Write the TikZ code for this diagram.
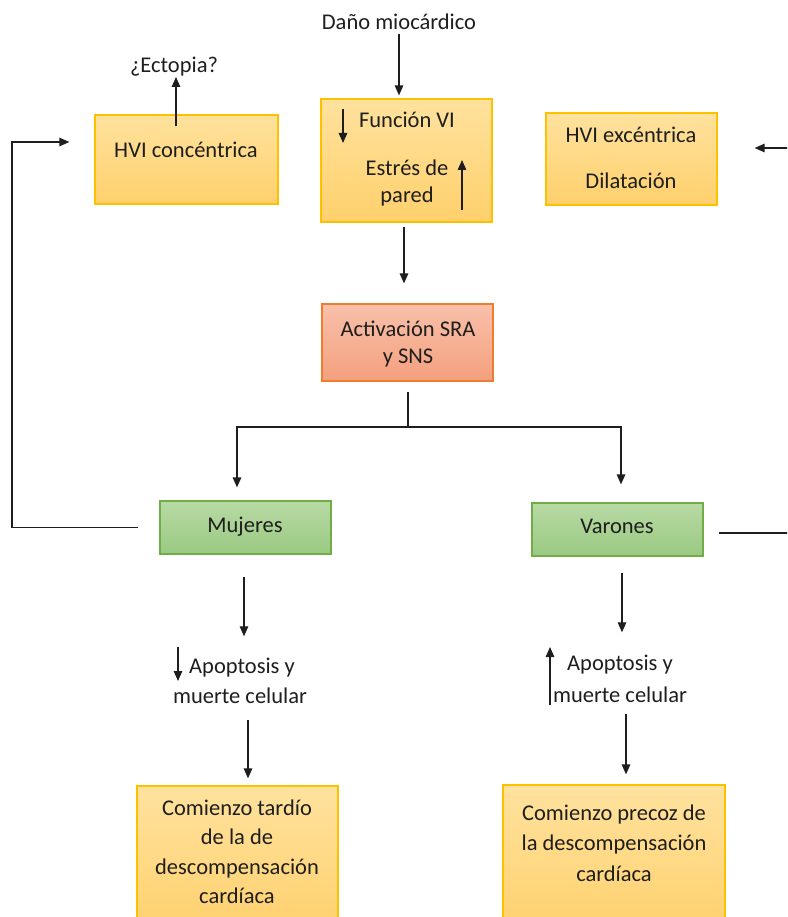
\documentclass[tikz,border=0pt]{standalone}
\usepackage{fontspec}
\setmainfont{Carlito}
\usetikzlibrary{arrows.meta,calc}
\definecolor{ybord}{RGB}{255,192,0}
\definecolor{ytop}{RGB}{255,226,158}
\definecolor{ybot}{RGB}{255,208,108}
\definecolor{otop}{RGB}{248,192,170}
\definecolor{obot}{RGB}{244,160,126}
\definecolor{obord}{RGB}{237,125,49}
\definecolor{gtop}{RGB}{184,218,164}
\definecolor{gbot}{RGB}{154,201,130}
\definecolor{gbord}{RGB}{112,173,71}
\definecolor{ink}{RGB}{30,30,30}
\begin{document}
\begin{tikzpicture}[x=1pt,y=-1pt,
  ybox/.style={draw=ybord, line width=1.2pt, top color=ytop, bottom color=ybot, inner sep=0pt},
  obox/.style={draw=obord, line width=1.2pt, top color=otop, bottom color=obot, inner sep=0pt},
  gbox/.style={draw=gbord, line width=1.2pt, top color=gtop, bottom color=gbot, inner sep=0pt},
  txt/.style={font=\fontsize{22.5}{27}\selectfont, text=ink, inner sep=0pt, anchor=base},
  arr/.style={draw=ink, line width=1.3pt, -{Triangle[length=10pt,width=8.5pt]}},
  ln/.style={draw=ink, line width=1.3pt}]
\useasboundingbox (0,0) rectangle (787,917);
\clip (0,0) rectangle (787,917);
% boxes
\node[ybox, minimum width=171pt, minimum height=123pt] (fvi) at (406.5,160.5) {};
\node[ybox, minimum width=183pt, minimum height=89pt] (hvic) at (186.5,159.5) {};
\node[ybox, minimum width=171pt, minimum height=92pt] (hvie) at (631.5,159) {};
\node[obox, minimum width=171pt, minimum height=77pt] (act) at (407.5,342.5) {};
\node[gbox, minimum width=171pt, minimum height=53pt] (muj) at (245.5,527.5) {};
\node[gbox, minimum width=171pt, minimum height=53pt] (var) at (617.5,529.5) {};
\node[ybox, minimum width=201pt, minimum height=150pt] (bl) at (237.5,861) {};
\node[ybox, minimum width=222pt, minimum height=152pt] (br) at (614,861) {};
% texts
\node[txt] (dano) at (399,30) {Daño miocárdico};
\node[txt] (ecto) at (174,73) {¿Ectopia?};
\node[txt] (funcion) at (407,128) {Función VI};
\node[txt] (estres) at (407,176) {Estrés de};
\node[txt] (pared) at (407,203) {pared};
\node[txt] (hvict) at (186,158) {HVI concéntrica};
\node[txt] (hviet) at (631,143) {HVI excéntrica};
\node[txt] (dil) at (631,189) {Dilatación};
\node[txt] (act1) at (408,336) {Activación SRA};
\node[txt] (act2) at (408,363) {y SNS};
\node[txt] (mujt) at (245,532) {Mujeres};
\node[txt] (vart) at (617,533) {Varones};
\node[txt] (apL1) at (242,673) {Apoptosis y};
\node[txt] (apL2) at (240,703) {muerte celular};
\node[txt] (apR1) at (620,670) {Apoptosis y};
\node[txt] (apR2) at (620,702) {muerte celular};
\node[txt] (bl1) at (237,815) {Comienzo tardío};
\node[txt] (bl2) at (237,844.5) {de la de};
\node[txt] (bl3) at (237,874) {descompensación};
\node[txt] (bl4) at (237,903) {cardíaca};
\node[txt] (br1) at (614,820) {Comienzo precoz de};
\node[txt] (br2) at (614,850.5) {la descompensación};
\node[txt] (br3) at (614,881) {cardíaca};
% coordinates
\coordinate (split) at (408,427);
\coordinate (loopL) at (12,142);
\coordinate (loopR) at (800,148);
\coordinate (fd1) at (343,109);
\coordinate (fd2) at (343,143);
\coordinate (fu1) at (462,210);
\coordinate (fu2) at (462,160);
\coordinate (ad1) at (178,647);
\coordinate (ad2) at (178,681);
\coordinate (au1) at (550,705);
\coordinate (au2) at (550,647);
% connectors
\draw[arr, shorten <=4pt, shorten >=3pt] (dano.south) -- (dano.south |- fvi.north);
\draw[arr, shorten <=-12pt] ([xshift=2pt]ecto.south |- hvic.north) -- ([xshift=2pt]ecto.south);
\draw[arr] (fd1) -- (fd2);
\draw[arr] (fu1) -- (fu2);
\draw[arr, shorten <=4pt, shorten >=20pt] ([xshift=-2.5pt]fvi.south) -- ([xshift=-2.5pt]fvi.south |- act.north);
\draw[ln, shorten <=10pt] (act.south -| split) -- (split);
\draw[arr, shorten >=13pt] (split) -| ([xshift=-8.5pt]muj.north);
\draw[arr, shorten >=18pt] (split) -| ([xshift=3.5pt]var.north);
\draw[arr, shorten <=21pt, shorten >=25pt] (muj.west) -- (muj.west -| loopL) -- (loopL) -- (loopL -| hvic.west);
\draw[arr, shorten <=15pt, shorten >=37pt] ([yshift=-3.5pt]var.east) -- ([yshift=-3.5pt]var.east -| loopR) -- (loopR) -- (loopR -| hvie.east);
\draw[arr, shorten <=22pt, shorten >=21pt] ([xshift=-1.5pt]muj.south) -- ([xshift=-1.5pt]muj.south |- apL1.north);
\draw[arr, shorten <=17pt, shorten >=7pt] ([xshift=8pt]apL2.south) -- ([xshift=8pt]apL2.south |- bl.north);
\draw[arr] (ad1) -- (ad2);
\draw[arr] (au1) -- (au2);
\draw[arr, shorten <=16pt, shorten >=22pt] ([xshift=4.5pt]var.south) -- ([xshift=4.5pt]var.south |- apR1.north);
\draw[arr, shorten <=12pt, shorten >=10pt] ([xshift=6pt]apR2.south) -- ([xshift=6pt]apR2.south |- br.north);
\end{tikzpicture}
\end{document}
